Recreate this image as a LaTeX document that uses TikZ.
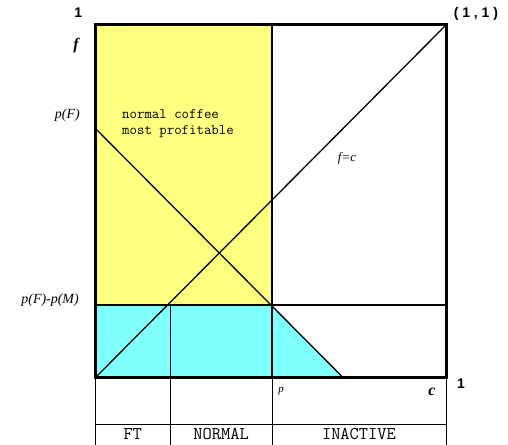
\documentclass[tikz,border=0pt]{standalone}
\usepackage{fontspec}
\setmainfont{Liberation Serif}
\setsansfont{Liberation Sans}
\usetikzlibrary{calc}
\definecolor{regionyellow}{RGB}{255,255,128}
\definecolor{regioncyan}  {RGB}{128,255,255}
\def\pF{0.708}
\def\gap{0.207}
\def\pp{0.504}
\begin{document}
\begin{tikzpicture}[
  x=351bp, y=353bp,
  frame/.style={line width=3pt},
  curve/.style={line width=1.3pt},
  table/.style={line width=0.7pt},
  corner/.style={font=\sffamily\bfseries\fontsize{14}{14}\selectfont},
  axisname/.style={font=\bfseries\itshape\fontsize{16}{16}\selectfont},
  price/.style={font=\itshape\fontsize{14}{14}\selectfont, anchor=east, inner sep=1pt},
  region/.style={font=\ttfamily\fontsize{18}{18}\selectfont, inner sep=1pt},
  note/.style={font=\ttfamily\fontsize{14.5}{16}\selectfont, align=left, anchor=north west, inner sep=0pt},
]
\useasboundingbox (-0.2707,-0.1898) rectangle (1.1766,1.0708);

% Regions
\fill[regionyellow] (0,\gap) rectangle (\pp,1);
\fill[regioncyan] (0,0) -- (0,\gap) -- (\pp,\gap) -- (\pF,0) -- cycle;

% Lines in the square
\draw[curve] (0,\pF) -- (\pF,0);
\draw[curve] (0,0) -- (1,1);
\draw[curve] (0,\gap) -- (1,\gap);
\draw[curve] (\pp,0) -- (\pp,1);
\draw[curve] (0.215,\gap) -- (0.215,0);

% Table below
\draw[table] (0,0) -- (0,-0.1898);
\draw[table] (0.215,0) -- (0.215,-0.1898);
\draw[table] (\pp,0) -- (\pp,-0.1898);
\draw[table] (1,0) -- (1,-0.1898);
\draw[table] (0,-0.130) -- (1,-0.130);

\draw[frame] (0,0) rectangle (1,1);

% Labels
\node[corner] (topone) at (-0.048,1.035) {1};
\node[corner] (oneone) at (1.085,1.031) {( 1 , 1 )};
\node[corner] (rightone) at (1.043,-0.017) {1};
\node[axisname] (fname) at (-0.054,0.943) {f};
\node[axisname] (cname) at (0.96,-0.040) {c};
\node[price] (pFlab) at (-0.04,0.745) {p(F)};
\node[price] (pMlab) at (-0.043,0.221) {p(F)-p(M)};
\node[font=\itshape\fontsize{11}{11}\selectfont] (plab) at (0.53,-0.038) {p};
\node[font=\itshape\fontsize{13}{13}\selectfont] (diaglab) at (0.718,0.623) {f=c};
\node[note] (profit) at (0.077,0.762) {normal coffee\\most profitable};

\node[region] (ft) at ({0.215/2},-0.159) {FT};
\node[region] (normal) at ({(0.215+\pp)/2},-0.159) {NORMAL};
\node[region] (inactive) at ({(\pp+1)/2},-0.159) {INACTIVE};
\end{tikzpicture}
\end{document}
